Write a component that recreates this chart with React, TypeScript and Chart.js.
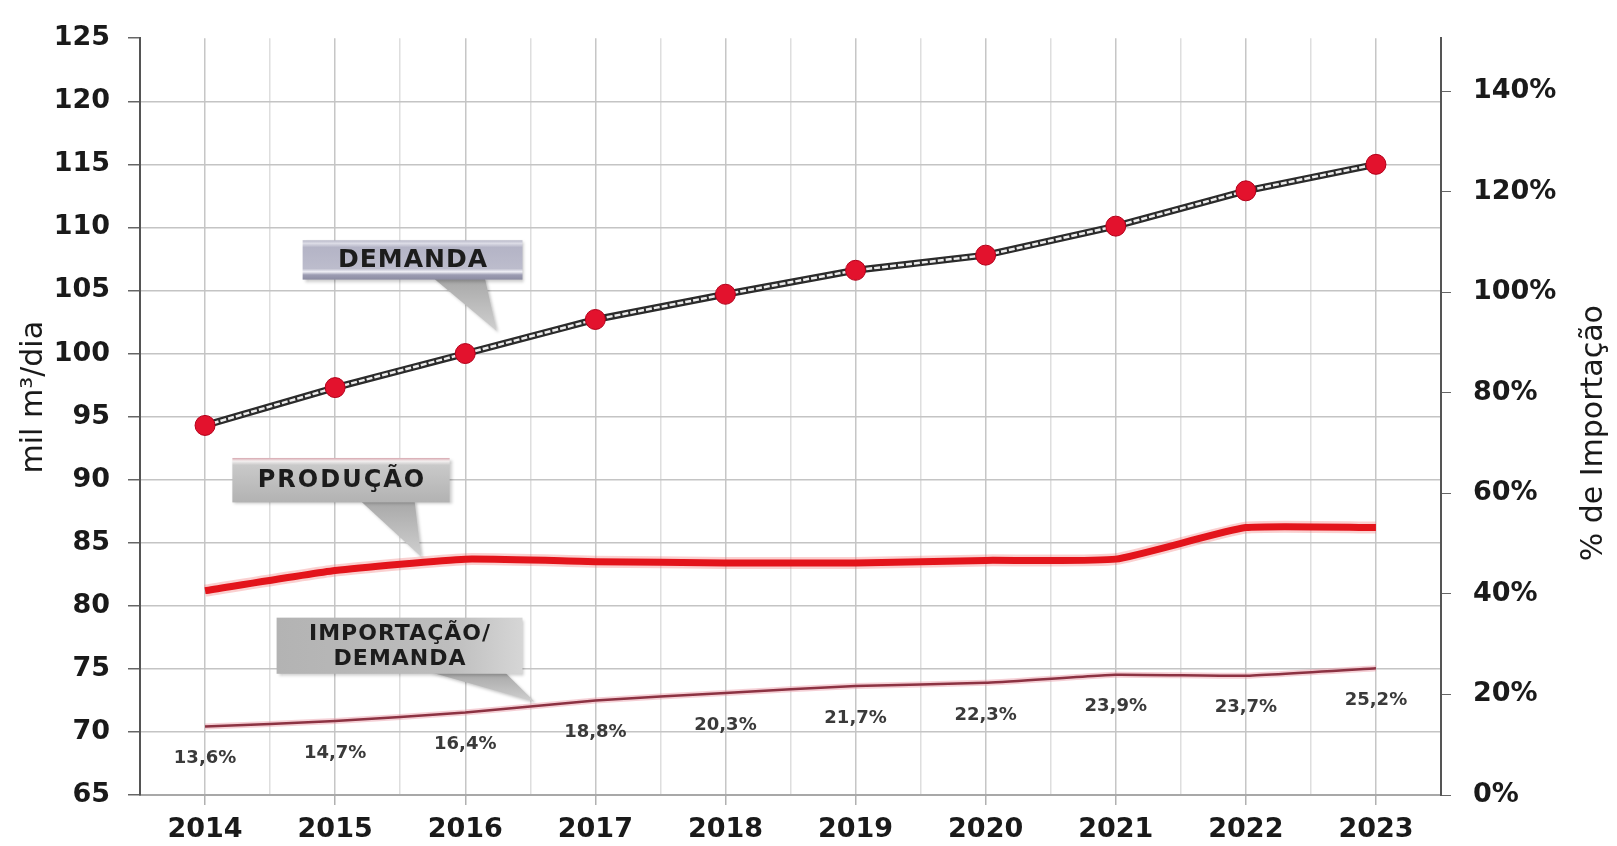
import React, { useEffect, useRef } from 'react';
import { Chart, registerables } from 'chart.js';

Chart.register(...registerables);

// ---- data ----
const years = [2014, 2015, 2016, 2017, 2018, 2019, 2020, 2021, 2022, 2023];
const demanda = [94.3, 97.3, 100.0, 102.7, 104.7, 106.6, 107.8, 110.1, 112.9, 115.0];
const producao = [81.2, 82.8, 83.7, 83.5, 83.4, 83.4, 83.6, 83.7, 86.2, 86.2];
const importacaoPct = [13.6, 14.7, 16.4, 18.8, 20.3, 21.7, 22.3, 23.9, 23.7, 25.2];

const leftMin = 65;
const leftMax = 125;
const leftStep = 5;
const rightMin = 0;
const rightMax = 150.5;
const rightStep = 20;

const leftTitle = 'mil m³/dia';
const rightTitle = '% de Importação';

// callouts (annotation anchors in data coordinates: x in years, y in left-axis units)
const callouts = [
  {
    lines: ['DEMANDA'],
    box: [2014.75, 108.98, 2016.44, 105.86],
    pointer: [[2015.75, 105.86], [2016.15, 105.86], [2016.24, 101.8]],
    kind: 'demanda',
    size: 25,
    spacing: 1,
  },
  {
    lines: ['PRODUÇÃO'],
    box: [2014.21, 91.72, 2015.88, 88.2],
    pointer: [[2015.19, 88.2], [2015.61, 88.2], [2015.66, 83.91]],
    kind: 'producao',
    size: 24,
    spacing: 2,
  },
  {
    lines: ['IMPORTAÇÃO/', 'DEMANDA'],
    box: [2014.55, 79.06, 2016.44, 74.61],
    pointer: [[2015.72, 74.61], [2016.3, 74.61], [2016.53, 72.42]],
    kind: 'importacao',
    size: 22,
    spacing: 1,
  },
];

const FONT = '"DejaVu Sans", "Liberation Sans", sans-serif';

const pts = (vals: number[]) => years.map((x, i) => ({ x, y: vals[i] }));
const isInt = (v: number) => Math.abs(v - Math.round(v)) < 1e-6;
const fmtPct = (v: number) => v.toFixed(1).replace('.', ',') + '%';

const overlayPlugin = {
  id: 'overlay',
  afterDatasetsDraw(chart: any) {
    const { ctx } = chart;
    const xs = chart.scales.x;
    const yl = chart.scales.y;
    const yr = chart.scales.y2;

    // percentage labels
    ctx.save();
    ctx.font = `bold 18px ${FONT}`;
    ctx.fillStyle = '#3a3a3a';
    ctx.textAlign = 'center';
    ctx.textBaseline = 'middle';
    years.forEach((yv, i) => {
      ctx.fillText(
        fmtPct(importacaoPct[i]),
        xs.getPixelForValue(yv),
        yr.getPixelForValue(importacaoPct[i]) + 32
      );
    });
    ctx.restore();

    // callouts
    callouts.forEach((c) => {
      const x0 = xs.getPixelForValue(c.box[0]);
      const y0 = yl.getPixelForValue(c.box[1]);
      const x1 = xs.getPixelForValue(c.box[2]);
      const y1 = yl.getPixelForValue(c.box[3]);
      const w = x1 - x0;
      const h = y1 - y0;

      ctx.save();
      ctx.shadowColor = 'rgba(0,0,0,0.22)';
      ctx.shadowBlur = 3;
      ctx.shadowOffsetX = 2;
      ctx.shadowOffsetY = 2;
      // pointer
      ctx.beginPath();
      c.pointer.forEach((p, i) => {
        const px = xs.getPixelForValue(p[0]);
        const py = yl.getPixelForValue(p[1]);
        if (i === 0) ctx.moveTo(px, py - 2);
        else if (i === 1) ctx.lineTo(px, py - 2);
        else ctx.lineTo(px, py);
      });
      ctx.closePath();
      const pg = ctx.createLinearGradient(0, y1, 0, yl.getPixelForValue(c.pointer[2][1]));
      pg.addColorStop(0, '#a9a9a9');
      pg.addColorStop(1, '#cfcfcf');
      ctx.fillStyle = pg;
      ctx.fill();

      // box
      let g;
      if (c.kind === 'demanda') {
        g = ctx.createLinearGradient(0, y0, 0, y1);
        g.addColorStop(0, '#b8b8c8');
        g.addColorStop(0.08, '#dcdce6');
        g.addColorStop(0.18, '#b4b4c6');
        g.addColorStop(0.72, '#bcbccc');
        g.addColorStop(0.8, '#f0f0f6');
        g.addColorStop(0.88, '#9c9cb2');
        g.addColorStop(1, '#8c8ca2');
      } else if (c.kind === 'producao') {
        g = ctx.createLinearGradient(0, y0, 0, y1);
        g.addColorStop(0, '#d6a6ae');
        g.addColorStop(0.07, '#f4f0f0');
        g.addColorStop(0.16, '#c9c9c9');
        g.addColorStop(1, '#b2b2b2');
      } else {
        g = ctx.createLinearGradient(x0, 0, x1, 0);
        g.addColorStop(0, '#b3b3b3');
        g.addColorStop(0.7, '#bdbdbd');
        g.addColorStop(1, '#d6d6d6');
      }
      ctx.fillStyle = g;
      ctx.fillRect(x0, y0, w, h);
      ctx.restore();

      // text
      ctx.save();
      ctx.font = `bold ${c.size}px ${FONT}`;
      (ctx as any).letterSpacing = `${c.spacing}px`;
      ctx.fillStyle = '#1c1c1c';
      ctx.textAlign = 'center';
      ctx.textBaseline = 'middle';
      const lh = c.size * 1.12;
      const cx = x0 + w / 2 + c.spacing / 2;
      const cy = y0 + h / 2 - ((c.lines.length - 1) * lh) / 2;
      c.lines.forEach((t, i) => ctx.fillText(t, cx, cy + i * lh + 1));
      ctx.restore();
    });
  },
  afterDraw(chart: any) {
    const { ctx, chartArea } = chart;
    ctx.save();
    ctx.font = `30px ${FONT}`;
    ctx.fillStyle = '#1a1a1a';
    ctx.textAlign = 'center';
    ctx.textBaseline = 'middle';
    ctx.translate(chartArea.left - 106, chartArea.top + 359);
    ctx.rotate(-Math.PI / 2);
    ctx.fillText(leftTitle, 0, 0);
    ctx.restore();

    ctx.save();
    ctx.font = `30px ${FONT}`;
    ctx.fillStyle = '#1a1a1a';
    ctx.textAlign = 'center';
    ctx.textBaseline = 'middle';
    ctx.translate(chartArea.right + 153, chartArea.top + 395);
    ctx.rotate(-Math.PI / 2);
    ctx.fillText(rightTitle, 0, 0);
    ctx.restore();
  },
};

export default function App() {
  const ref = useRef<HTMLCanvasElement | null>(null);

  useEffect(() => {
    if (!ref.current) return;
    const tickFont = { family: FONT, weight: 'bold' as const, size: 27 };
    const chart = new Chart(ref.current, {
      type: 'line',
      data: {
        datasets: [
          {
            label: 'Demanda pontos',
            data: pts(demanda),
            showLine: false,
            pointRadius: 10,
            pointHoverRadius: 10,
            pointBackgroundColor: '#e3122d',
            pointBorderColor: '#b3001a',
            pointBorderWidth: 1,
            yAxisID: 'y',
            order: 1,
          },
          {
            label: 'Demanda interna',
            data: pts(demanda),
            borderColor: '#ececec',
            borderWidth: 2.5,
            borderDash: [6, 2],
            pointRadius: 0,
            tension: 0,
            yAxisID: 'y',
            order: 3,
          },
          {
            label: 'Demanda',
            data: pts(demanda),
            borderColor: '#2b2b2b',
            borderWidth: 7,
            pointRadius: 0,
            tension: 0,
            yAxisID: 'y',
            order: 4,
          },
          {
            label: 'Produção',
            data: pts(producao),
            borderColor: '#e3141b',
            borderWidth: 7,
            pointRadius: 0,
            tension: 0.15,
            yAxisID: 'y',
            order: 7,
          },
          {
            label: 'Produção halo',
            data: pts(producao),
            borderColor: 'rgba(240,120,120,0.35)',
            borderWidth: 12,
            pointRadius: 0,
            tension: 0.15,
            yAxisID: 'y',
            order: 8,
          },
          {
            label: 'Importação/Demanda',
            data: pts(importacaoPct),
            borderColor: '#8c3242',
            borderWidth: 2.5,
            pointRadius: 0,
            tension: 0.1,
            yAxisID: 'y2',
            order: 9,
          },
          {
            label: 'Importação halo',
            data: pts(importacaoPct),
            borderColor: 'rgba(232,150,165,0.45)',
            borderWidth: 6,
            pointRadius: 0,
            tension: 0.1,
            yAxisID: 'y2',
            order: 10,
          },
        ],
      },
      options: {
        animation: false,
        responsive: false,
        maintainAspectRatio: false,
        events: [],
        layout: { padding: { top: 27, left: 0, right: 0, bottom: 0 } },
        plugins: { legend: { display: false }, tooltip: { enabled: false } },
        scales: {
          x: {
            type: 'linear',
            min: years[0] - 0.5,
            max: years[years.length - 1] + 0.5,
            afterFit: (s: any) => {
              s.height = 51;
            },
            ticks: {
              stepSize: 0.5,
              autoSkip: false,
              maxRotation: 0,
              padding: 9,
              color: '#1a1a1a',
              font: tickFont,
              callback: (v: any) => (isInt(Number(v)) ? String(Math.round(Number(v))) : ''),
            },
            grid: {
              color: (c: any) => (c.tick && isInt(c.tick.value) ? '#c6c6c6' : '#dedede'),
              lineWidth: 1.5,
              tickLength: 10,
              tickColor: (c: any) => (c.tick && isInt(c.tick.value) ? '#b0b0b0' : 'rgba(0,0,0,0)'),
            },
            border: { display: true, color: '#a8a8a8', width: 2 },
          },
          y: {
            type: 'linear',
            position: 'left',
            min: leftMin,
            max: leftMax,
            afterFit: (s: any) => {
              s.width = 140;
            },
            ticks: {
              stepSize: leftStep,
              padding: 18,
              color: '#1a1a1a',
              font: tickFont,
            },
            grid: {
              color: (c: any) => (c.tick && c.tick.value === leftMax ? 'rgba(0,0,0,0)' : '#c4c4c4'),
              lineWidth: 1.5,
              tickLength: 12,
              tickColor: '#666',
            },
            border: { display: true, color: '#555', width: 2 },
          },
          y2: {
            type: 'linear',
            position: 'right',
            min: rightMin,
            max: rightMax,
            afterFit: (s: any) => {
              s.width = 176;
            },
            ticks: {
              stepSize: rightStep,
              includeBounds: false,
              padding: 22,
              color: '#1a1a1a',
              font: tickFont,
              callback: (v: any) => `${v}%`,
            },
            grid: {
              drawOnChartArea: false,
              tickLength: 10,
              tickColor: '#666',
            },
            border: { display: true, color: '#555', width: 2 },
          },
        },
      },
      plugins: [overlayPlugin],
    });
    return () => chart.destroy();
  }, []);

  return (
    <div style={{ position: 'absolute', left: 0, top: 0, width: 1617, height: 846, background: '#fff' }}>
      <canvas ref={ref} width={1617} height={846} style={{ width: 1617, height: 846, display: 'block' }} />
    </div>
  );
}
